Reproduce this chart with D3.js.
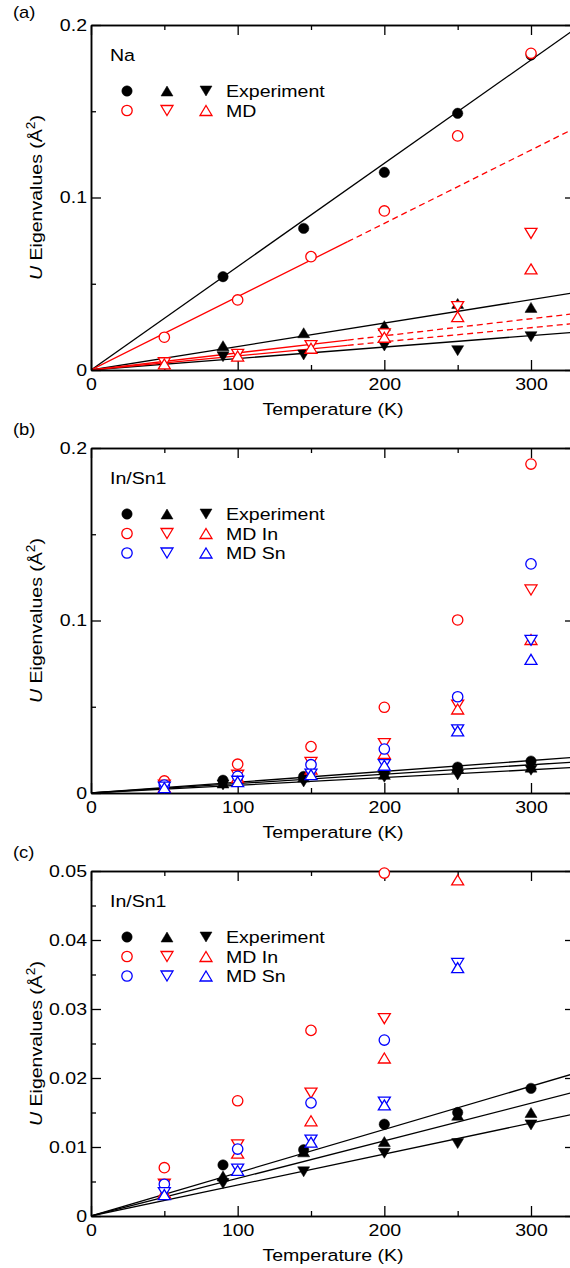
<!DOCTYPE html>
<html>
<head>
<meta charset="utf-8">
<script src="https://cdn.jsdelivr.net/npm/d3@7"></script>
<style>
  body { margin: 0; background: #fff; }
  svg text { font-family: "Liberation Sans", Arial, Helvetica, sans-serif; fill: #000; }
</style>
</head>
<body>
<svg id="fig" width="570" height="1268"></svg>
<script>
// ---- temperatures (K) ----
const expT = [90, 145, 200, 250, 300];
const mdT  = [50, 100, 150, 200, 250, 300];

// ---- Na: experimental U eigenvalues (Å^2) ----
const naExpCircle = [0.0541, 0.0821, 0.1146, 0.1488, 0.1826];
const naExpUp     = [0.0141, 0.0216, 0.0257, 0.0386, 0.0363];
const naExpDown   = [0.0077, 0.0087, 0.0139, 0.0112, 0.0193];
// ---- Na: MD U eigenvalues ----
const naMdCircle  = [0.0190, 0.0406, 0.0657, 0.0922, 0.1357, 0.1836];
const naMdDown    = [0.0042, 0.0091, 0.0141, 0.0209, 0.0367, 0.0792];
const naMdUp      = [0.0035, 0.0081, 0.0126, 0.0190, 0.0309, 0.0586];
// ---- Na: slopes of linear fits through the origin (Å^2 / K) ----
const naExpSlopes = [0.000599, 0.000136, 0.0000665];
const naMdSlopes  = [0.000425, 0.0000991, 0.0000818];

// ---- In/Sn1: experimental U eigenvalues ----
const inExpCircle = [0.0074, 0.0096, 0.0133, 0.0150, 0.0185];
const inExpUp     = [0.0058, 0.0093, 0.0108, 0.0146, 0.0150];
const inExpDown   = [0.0047, 0.0064, 0.0091, 0.0105, 0.0132];
const inExpSlopes = [0.0000627, 0.0000545, 0.0000449];
// ---- In/Sn1: MD, In atoms ----
const mdInCircle  = [0.0070, 0.0167, 0.0269, 0.0497, 0.1003, 0.1907];
const mdInDown    = [0.0046, 0.0103, 0.0178, 0.0286, 0.0510, 0.1177];
const mdInUp      = [0.0034, 0.0091, 0.0138, 0.0229, 0.0487, 0.0890];
// ---- In/Sn1: MD, Sn atoms ----
const mdSnCircle  = [0.0046, 0.0097, 0.0164, 0.0255, 0.0558, 0.1328];
const mdSnDown    = [0.0034, 0.0068, 0.0110, 0.0165, 0.0366, 0.0885];
const mdSnUp      = [0.0031, 0.0066, 0.0107, 0.0161, 0.0360, 0.0775];

// ---- axis ticks ----
const xMajor = [0, 100, 200, 300];
const xMinor = [50, 150, 250];
const xLabels = ["0", "100", "200", "300"];
const yMajorWide = [0, 0.1, 0.2];
const yMinorWide = [0.05, 0.15];
const yLabelsWide = ["0", "0.1", "0.2"];
const yMajorNarrow = [0, 0.01, 0.02, 0.03, 0.04, 0.05];
const yMinorNarrow = [0.005, 0.015, 0.025, 0.035, 0.045];
const yLabelsNarrow = ["0", "0.01", "0.02", "0.03", "0.04", "0.05"];

const RED = "#ff0000", BLUE = "#0000ff", BLACK = "#000000";
const FONT = 17;
const WIDEN = 1.15;   // horizontal widening of the lettering

const svg = d3.select("#fig");

// widen text horizontally about its own anchor point
function widen(sel) {
  sel.each(function () {
    const t = d3.select(this);
    const x = +t.attr("x") || 0, y = +t.attr("y") || 0;
    const prev = t.attr("transform") || "";
    t.attr("transform", `${prev} translate(${x},${y}) scale(${WIDEN},1) translate(${-x},${-y})`);
  });
}

// marker geometry
function drawMarker(g, shape, cx, cy, color, filled) {
  const fill = filled ? color : "#fff";
  if (shape === "circle") {
    g.append("circle").attr("cx", cx).attr("cy", cy).attr("r", 5.2)
      .attr("fill", fill).attr("stroke", color).attr("stroke-width", filled ? 0.5 : 1.3);
  } else {
    const w = 6, h = 5;
    const d = shape === "up"
      ? `M${cx},${cy - h}L${cx + w},${cy + h}L${cx - w},${cy + h}Z`
      : `M${cx},${cy + h}L${cx + w},${cy - h}L${cx - w},${cy - h}Z`;
    g.append("path").attr("d", d).attr("fill", fill)
      .attr("stroke", color).attr("stroke-width", filled ? 0.5 : 1.3);
  }
}

function drawPanel(cfg, idx) {
  const x = d3.scaleLinear().domain([0, 330]).range([91, 575]);
  const y = d3.scaleLinear().domain(cfg.yDomain).range([cfg.bottom, cfg.top]);
  const g = svg.append("g");

  const clipId = "clip" + idx;
  svg.append("clipPath").attr("id", clipId).append("rect")
    .attr("x", x(0)).attr("y", y(cfg.yDomain[1]))
    .attr("width", x(330) - x(0)).attr("height", y(0) - y(cfg.yDomain[1]));

  // fitted lines through the origin
  const lines = g.append("g").attr("clip-path", `url(#${clipId})`);
  const lineGen = d3.line().x(d => x(d[0])).y(d => y(d[1]));
  cfg.fits.forEach(f => {
    if (f.split) {
      lines.append("path").datum([[0, 0], [f.split, f.slope * f.split]])
        .attr("d", lineGen).attr("fill", "none").attr("stroke", f.color).attr("stroke-width", 1.3);
      lines.append("path").datum([[f.split, f.slope * f.split], [330, f.slope * 330]])
        .attr("d", lineGen).attr("fill", "none").attr("stroke", f.color).attr("stroke-width", 1.3)
        .attr("stroke-dasharray", "6,4");
    } else {
      lines.append("path").datum([[0, 0], [330, f.slope * 330]])
        .attr("d", lineGen).attr("fill", "none").attr("stroke", f.color).attr("stroke-width", 1.3);
    }
  });

  // axes (ticks point inward)
  const ax = g.append("g").attr("class", "axes");
  const styleAxis = sel => {
    sel.attr("font-family", null);
    sel.select(".domain").attr("stroke", "#000").attr("stroke-width", 1.5);
    sel.selectAll(".tick line").attr("stroke", "#000").attr("stroke-width", 1.3);
    sel.selectAll(".tick text").attr("font-size", FONT).call(widen);
  };
  ax.append("g").attr("transform", `translate(0,${y(0)})`)
    .call(d3.axisBottom(x).tickValues(xMajor).tickSizeInner(-10).tickSizeOuter(0)
      .tickPadding(8).tickFormat((d, i) => xLabels[i]))
    .call(styleAxis);
  ax.append("g").attr("transform", `translate(0,${y(0)})`)
    .call(d3.axisBottom(x).tickValues(xMinor).tickSizeInner(-5).tickSizeOuter(0).tickFormat(""))
    .call(styleAxis);
  ax.append("g").attr("transform", `translate(0,${y(cfg.yDomain[1])})`)
    .call(d3.axisTop(x).tickValues(xMajor).tickSizeInner(-10).tickSizeOuter(0).tickFormat(""))
    .call(styleAxis);
  ax.append("g").attr("transform", `translate(0,${y(cfg.yDomain[1])})`)
    .call(d3.axisTop(x).tickValues(xMinor).tickSizeInner(-5).tickSizeOuter(0).tickFormat(""))
    .call(styleAxis);
  ax.append("g").attr("transform", `translate(${x(0)},0)`)
    .call(d3.axisLeft(y).tickValues(cfg.yMajor).tickSizeInner(-10).tickSizeOuter(0)
      .tickPadding(4).tickFormat((d, i) => cfg.yLabels[i]))
    .call(styleAxis);
  ax.append("g").attr("transform", `translate(${x(0)},0)`)
    .call(d3.axisLeft(y).tickValues(cfg.yMinor).tickSizeInner(-5).tickSizeOuter(0).tickFormat(""))
    .call(styleAxis);
  ax.append("g").attr("transform", `translate(${x(330)},0)`)
    .call(d3.axisRight(y).tickValues(cfg.yMajor).tickSizeInner(-10).tickSizeOuter(0).tickFormat(""))
    .call(styleAxis);
  ax.append("g").attr("transform", `translate(${x(330)},0)`)
    .call(d3.axisRight(y).tickValues(cfg.yMinor).tickSizeInner(-5).tickSizeOuter(0).tickFormat(""))
    .call(styleAxis);

  // data markers (values above the axis range are left out)
  const mk = g.append("g");
  cfg.series.forEach(s => {
    s.v.forEach((v, i) => {
      if (v > cfg.yDomain[1]) return;
      drawMarker(mk, s.shape, x(s.t[i]), y(v), s.color, s.filled);
    });
  });

  // axis titles
  g.append("text").attr("x", (x(0) + x(330)) / 2).attr("y", cfg.bottom + 45)
    .attr("text-anchor", "middle").attr("font-size", FONT).text("Temperature (K)").call(widen);
  const yt = g.append("text")
    .attr("transform", `translate(42,${(cfg.top + cfg.bottom) / 2}) rotate(-90) scale(${WIDEN},1)`)
    .attr("text-anchor", "middle").attr("font-size", FONT);
  yt.append("tspan").attr("font-style", "italic").text("U");
  yt.append("tspan").text(" Eigenvalues (Å");
  yt.append("tspan").attr("font-size", FONT * 0.7).attr("dy", -7).text("2");
  yt.append("tspan").attr("dy", 7).text(")");

  // panel letter
  g.append("text").attr("x", 13).attr("y", cfg.letterY).attr("font-size", 16).text(cfg.letter).call(widen);

  // sample label and legend
  g.append("text").attr("x", 110).attr("y", cfg.top + 36).attr("font-size", FONT).text(cfg.sample).call(widen);
  const lg = g.append("g");
  const cols = [127, 167, 206];
  cfg.legend.forEach((row, r) => {
    const ly = cfg.top + 66 + r * 19.5;
    row.shapes.forEach((sh, c) => drawMarker(lg, sh, cols[c], ly, row.color, row.filled));
    lg.append("text").attr("x", 226).attr("y", ly + 6.5).attr("font-size", FONT).text(row.label).call(widen);
  });
}

const expSeries = (c, u, d) => [
  { t: expT, v: c, shape: "circle", color: BLACK, filled: true },
  { t: expT, v: u, shape: "up", color: BLACK, filled: true },
  { t: expT, v: d, shape: "down", color: BLACK, filled: true }
];
const mdSeries = (c, d, u, color) => [
  { t: mdT, v: c, shape: "circle", color, filled: false },
  { t: mdT, v: d, shape: "down", color, filled: false },
  { t: mdT, v: u, shape: "up", color, filled: false }
];
const expRow = { shapes: ["circle", "up", "down"], color: BLACK, filled: true, label: "Experiment" };
const mdRow = (label, color) => ({ shapes: ["circle", "down", "up"], color, filled: false, label });

const inFits = inExpSlopes.map(s => ({ slope: s, color: BLACK }));

drawPanel({
  letter: "(a)", letterY: 18, sample: "Na",
  top: 25, bottom: 370, yDomain: [0, 0.2],
  yMajor: yMajorWide, yMinor: yMinorWide, yLabels: yLabelsWide,
  fits: naExpSlopes.map(s => ({ slope: s, color: BLACK }))
    .concat(naMdSlopes.map(s => ({ slope: s, color: RED, split: 175 }))),
  series: expSeries(naExpCircle, naExpUp, naExpDown)
    .concat(mdSeries(naMdCircle, naMdDown, naMdUp, RED)),
  legend: [expRow, mdRow("MD", RED)]
}, 0);

drawPanel({
  letter: "(b)", letterY: 435, sample: "In/Sn1",
  top: 448, bottom: 793, yDomain: [0, 0.2],
  yMajor: yMajorWide, yMinor: yMinorWide, yLabels: yLabelsWide,
  fits: inFits,
  series: expSeries(inExpCircle, inExpUp, inExpDown)
    .concat(mdSeries(mdInCircle, mdInDown, mdInUp, RED))
    .concat(mdSeries(mdSnCircle, mdSnDown, mdSnUp, BLUE)),
  legend: [expRow, mdRow("MD In", RED), mdRow("MD Sn", BLUE)]
}, 1);

drawPanel({
  letter: "(c)", letterY: 858, sample: "In/Sn1",
  top: 871, bottom: 1216, yDomain: [0, 0.05],
  yMajor: yMajorNarrow, yMinor: yMinorNarrow, yLabels: yLabelsNarrow,
  fits: inFits,
  series: expSeries(inExpCircle, inExpUp, inExpDown)
    .concat(mdSeries(mdInCircle, mdInDown, mdInUp, RED))
    .concat(mdSeries(mdSnCircle, mdSnDown, mdSnUp, BLUE)),
  legend: [expRow, mdRow("MD In", RED), mdRow("MD Sn", BLUE)]
}, 2);
</script>
</body>
</html>
